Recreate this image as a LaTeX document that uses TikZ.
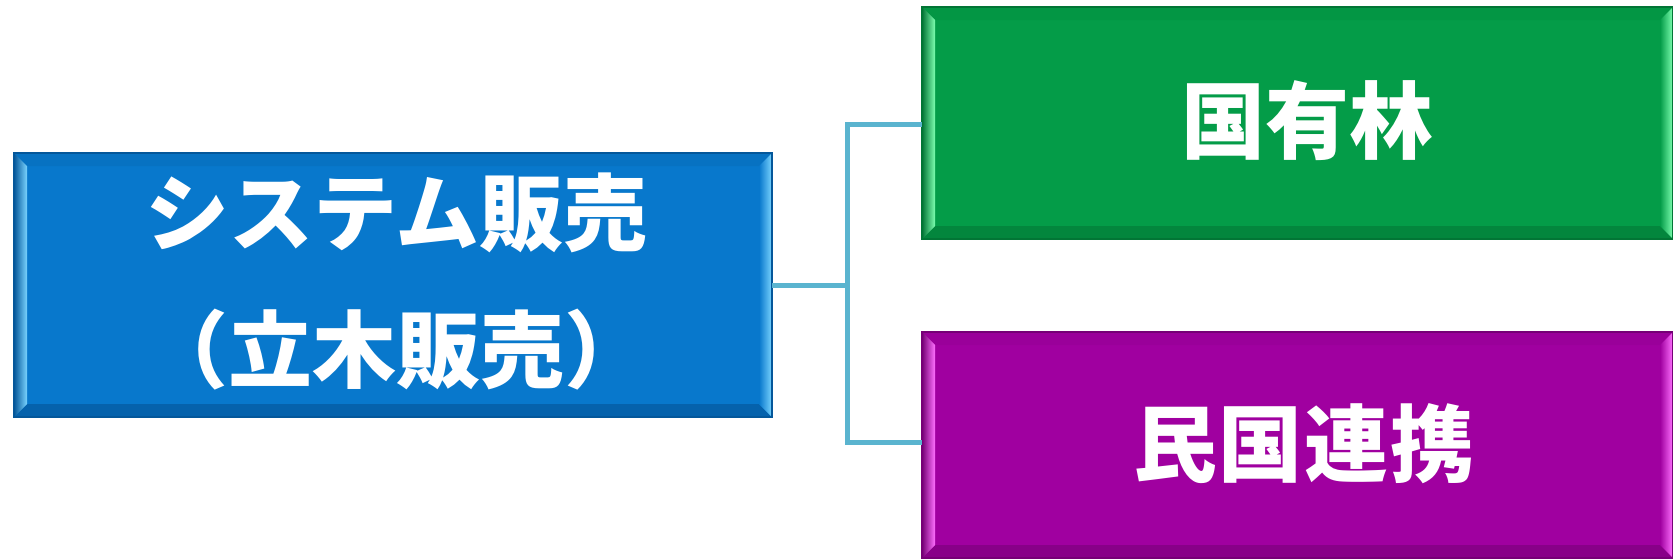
\documentclass[tikz,border=0pt]{standalone}
\usepackage{fontspec}
\newfontfamily\cjk{Noto Sans CJK JP}[BoldFont=* Black]
\definecolor{bmain}{HTML}{0878CC}
\definecolor{btop}{HTML}{0772C2}
\definecolor{bdark}{HTML}{0562AC}
\definecolor{bedge}{HTML}{04579A}
\definecolor{blight}{HTML}{7AD4FF}
\definecolor{gmain}{HTML}{049C48}
\definecolor{gtop}{HTML}{039644}
\definecolor{gdark}{HTML}{03863D}
\definecolor{gedge}{HTML}{027535}
\definecolor{glight}{HTML}{7DFFB0}
\definecolor{pmain}{HTML}{A000A0}
\definecolor{ptop}{HTML}{9A009A}
\definecolor{pdark}{HTML}{880088}
\definecolor{pedge}{HTML}{760076}
\definecolor{plight}{HTML}{FF70FF}
\definecolor{linkc}{HTML}{5AB4CF}
\newcommand\bv{13}
\newcommand\bevbox[5]{%
  \fill[#5main] (#1,#2) rectangle (#3,#4);
  \fill[#5top] (#1,#2) -- (#3,#2) -- (#3-\bv,#2+\bv) -- (#1+\bv,#2+\bv) -- cycle;
  \fill[#5dark] (#1,#4) -- (#3,#4) -- (#3-\bv,#4-\bv) -- (#1+\bv,#4-\bv) -- cycle;
  \shade[left color=#5edge, middle color=#5edge!70!#5light, right color=#5light]
    (#1,#2) -- (#1+\bv,#2+\bv) -- (#1+\bv,#4-\bv) -- (#1,#4) -- cycle;
  \shade[left color=#5main, right color=#5light]
    (#3,#2) -- (#3-\bv,#2+\bv) -- (#3-\bv,#4-\bv) -- (#3,#4) -- cycle;
  \draw[#5edge, line width=1.2] (#1,#2) rectangle (#3,#4);
}
\tikzset{
  boxnode/.style={inner sep=0, anchor=north west},
  label/.style={text=white, font=\cjk\bfseries\fontsize{84}{137}\selectfont, align=center, inner sep=0},
  link/.style={draw=linkc, line width=5}
}
\begin{document}
\begin{tikzpicture}[x=1pt,y=-1pt]
\useasboundingbox (0,0) rectangle (1673,558);
\bevbox{14}{153}{772}{417}{b}
\bevbox{922}{7}{1673}{239}{g}
\bevbox{922}{332}{1673}{558}{p}
\node[boxnode, minimum width=758pt, minimum height=264pt] (sys) at (14,153) {};
\node[boxnode, minimum width=751pt, minimum height=232pt] (kok) at (922,7) {};
\node[boxnode, minimum width=751pt, minimum height=226pt] (min) at (922,332) {};
\node[label] (syst) at ([xshift=3pt,yshift=4pt]sys.center) {システム販売\\（立木販売）};
\node[label] (kokt) at ([xshift=10pt,yshift=3pt]kok.center) {国有林};
\node[label] (mint) at ([xshift=6pt,yshift=2pt]min.center) {\addfontfeature{LetterSpace=2}民国連携};
\coordinate (j) at (847,285);
\draw[link] (sys.east |- j) -- (j);
\draw[link] (j) |- ([yshift=-1pt]kok.west);
\draw[link] (j) |- ([yshift=3pt]min.west);
\end{tikzpicture}
\end{document}
